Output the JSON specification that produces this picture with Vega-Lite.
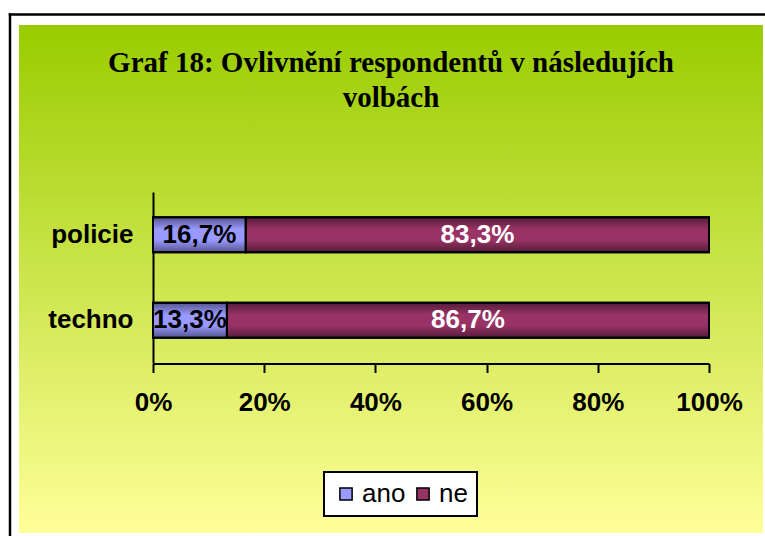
{
  "$schema": "https://vega.github.io/schema/vega-lite/v6.json",
  "width": 744,
  "height": 508,
  "autosize": {"type": "none"},
  "padding": {"left": 19, "top": 25, "right": 2, "bottom": 3},
  "background": "white",
  "title": {
    "text": ["Graf 18: Ovlivnění respondentů v následujích", "volbách"],
    "font": "Liberation Serif",
    "fontSize": 29,
    "fontWeight": "bold",
    "color": "black",
    "anchor": "middle",
    "frame": "group",
    "lineHeight": 35,
    "baseline": "top",
    "offset": -99
  },
  "data": {
    "values": [
      {"kategorie": "policie", "odpoved": "ano", "podil": 0.167},
      {"kategorie": "policie", "odpoved": "ne", "podil": 0.833},
      {"kategorie": "techno", "odpoved": "ano", "podil": 0.133},
      {"kategorie": "techno", "odpoved": "ne", "podil": 0.867}
    ]
  },
  "layer": [
    {
      "layer": [
        {
          "mark": {"type": "bar", "stroke": "black", "strokeWidth": 2},
          "encoding": {
            "y": {
              "field": "kategorie",
              "type": "nominal",
              "sort": ["policie", "techno"],
              "scale": {"range": [167, 338], "paddingInner": 0.59, "paddingOuter": 0.295},
              "axis": {
                "orient": "left",
                "offset": -134,
                "title": null,
                "ticks": false,
                "tickSize": 0,
                "domainColor": "black",
                "domainWidth": 2,
                "labelFont": "Liberation Sans",
                "labelFontSize": 26,
                "labelFontWeight": "bold",
                "labelColor": "black",
                "labelPadding": 20,
                "grid": false
              }
            },
            "x": {
              "field": "podil",
              "type": "quantitative",
              "stack": "normalize",
              "scale": {"domain": [0, 1], "range": [134, 690], "nice": false},
              "axis": {
                "orient": "bottom",
                "offset": -169.5,
                "title": null,
                "format": "%",
                "values": [0, 0.2, 0.4, 0.6, 0.8, 1],
                "domainColor": "black",
                "domainWidth": 2,
                "ticks": true,
                "tickColor": "black",
                "tickWidth": 2,
                "tickSize": 9,
                "labelFont": "Liberation Sans",
                "labelFontSize": 26,
                "labelFontWeight": "bold",
                "labelColor": "black",
                "labelPadding": 17,
                "labelFlush": false,
                "labelOverlap": false,
                "grid": false
              }
            },
            "color": {
              "field": "odpoved",
              "type": "nominal",
              "sort": ["ano", "ne"],
              "scale": {"domain": ["ano", "ne"], "range": ["#9999ff", "#993366"]},
              "legend": {
                "orient": "none",
                "legendX": 305,
                "legendY": 447,
                "direction": "horizontal",
                "title": null,
                "symbolType": "square",
                "symbolSize": 150,
                "symbolStrokeColor": "black",
                "symbolStrokeWidth": 1.5,
                "labelFont": "Liberation Sans",
                "labelFontSize": 26,
                "labelColor": "black",
                "labelOffset": 3,
                "columnPadding": 4,
                "padding": 9,
                "fillColor": "white",
                "strokeColor": "black",
                "encode": {"legend": {"update": {"strokeWidth": {"value": 2}}}}
              }
            }
          }
        },
        {
          "mark": {
            "type": "bar",
            "stroke": "black",
            "strokeWidth": 2,
            "fill": {
              "gradient": "linear",
              "x1": 0, "y1": 0, "x2": 0, "y2": 1,
              "stops": [
                {"offset": 0, "color": "rgba(0,0,0,0.45)"},
                {"offset": 0.35, "color": "rgba(0,0,0,0)"},
                {"offset": 0.65, "color": "rgba(0,0,0,0)"},
                {"offset": 1, "color": "rgba(0,0,0,0.45)"}
              ]
            }
          },
          "encoding": {
            "y": {"field": "kategorie", "type": "nominal", "sort": ["policie", "techno"]},
            "x": {"field": "podil", "type": "quantitative", "stack": "normalize"},
            "detail": {"field": "odpoved", "type": "nominal"}
          }
        },
        {
          "mark": {"type": "text", "font": "Liberation Sans", "fontSize": 26, "fontWeight": "bold", "baseline": "middle", "align": "center"},
          "encoding": {
            "y": {"field": "kategorie", "type": "nominal", "sort": ["policie", "techno"]},
            "x": {"field": "podil", "type": "quantitative", "stack": "normalize", "bandPosition": 0.5},
            "detail": {"field": "odpoved", "type": "nominal"},
            "text": {"field": "podil", "type": "quantitative", "format": ".1%"},
            "color": {"condition": {"test": "datum.odpoved === 'ne'", "value": "white"}, "value": "black"}
          }
        }
      ]
    },
    {
      "mark": {"type": "point", "opacity": 0},
      "encoding": {
        "x": {
          "field": "podil",
          "type": "quantitative",
          "scale": {"domain": [0, 1], "range": [-10.75, 760], "nice": false, "zero": false},
          "axis": {"orient": "top", "offset": 11, "labels": false, "ticks": false, "grid": false, "title": null, "domainColor": "black", "domainWidth": 2.5}
        },
        "y": {
          "field": "kategorie",
          "type": "nominal",
          "scale": {"range": [-12.25, 530]},
          "axis": {"orient": "left", "offset": 9.5, "labels": false, "ticks": false, "grid": false, "title": null, "domainColor": "black", "domainWidth": 2.5}
        }
      }
    }
  ],
  "resolve": {
    "scale": {"x": "independent", "y": "independent"},
    "axis": {"x": "independent", "y": "independent"}
  },
  "config": {
    "view": {
      "stroke": "transparent",
      "strokeWidth": 0,
      "fill": {
        "gradient": "linear",
        "x1": 0, "y1": 0, "x2": 0, "y2": 1,
        "stops": [
          {"offset": 0, "color": "#99cc00"},
          {"offset": 1, "color": "#ffff99"}
        ]
      }
    },
    "locale": {
      "number": {"decimal": ",", "thousands": "\u00a0", "grouping": [3], "currency": ["", "\u00a0Kč"]}
    }
  }
}
